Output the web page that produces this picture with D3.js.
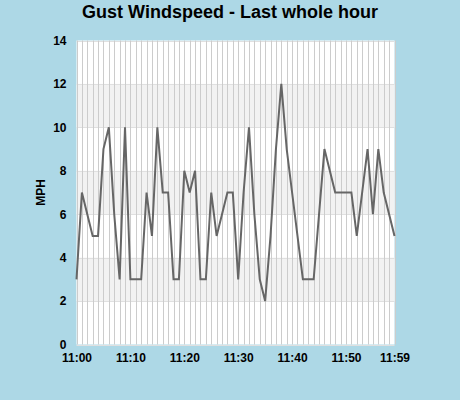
<!DOCTYPE html>
<html>
<head>
<meta charset="utf-8">
<script src="https://cdn.jsdelivr.net/npm/d3@7"></script>
<style>
  html, body { margin: 0; padding: 0; background: #add8e6; }
  svg { display: block; font-family: "Liberation Sans", Arial, sans-serif; }
</style>
</head>
<body>
<svg id="chart"></svg>
<script>
// gust speed, one reading per minute from 11:00 to 11:59
var gusts = [3, 7, 6, 5, 5, 9, 10, 6, 3, 10,
             3, 3, 3, 7, 5, 10, 7, 7, 3, 3,
             8, 7, 8, 3, 3, 7, 5, 6, 7, 7,
             3, 7, 10, 6, 3, 2, 5, 9, 12, 9,
             7, 5, 3, 3, 3, 6, 9, 8, 7, 7,
             7, 7, 5, 7, 9, 6, 9, 7, 6, 5];
var tickMinutes = [0, 10, 20, 30, 40, 50, 59];
var tickLabels = ["11:00", "11:10", "11:20", "11:30", "11:40", "11:50", "11:59"];
var yTicks = [0, 2, 4, 6, 8, 10, 12, 14];
var bands = [[2, 4], [6, 8], [10, 12]];

var width = 460, height = 400;
// note: "top" is taken by window.top, so plot edges get their own names
var plotL = 76.5, plotR = 394.5, plotT = 40.5, plotB = 344.5;

var svg = d3.select("#chart")
    .attr("width", width)
    .attr("height", height);

var x = d3.scaleLinear()
    .domain([0, gusts.length - 1])
    .range([plotL, plotR]);

var y = d3.scaleLinear()
    .domain([0, 14])
    .range([plotB, plotT]);

// plot background
svg.append("rect")
    .attr("x", plotL)
    .attr("y", plotT)
    .attr("width", plotR - plotL)
    .attr("height", plotB - plotT)
    .attr("fill", "#ffffff");

// alternate grey bands
svg.selectAll("rect.band")
    .data(bands)
    .enter()
    .append("rect")
    .attr("class", "band")
    .attr("x", plotL)
    .attr("width", plotR - plotL)
    .attr("y", function (d) { return y(d[1]); })
    .attr("height", function (d) { return y(d[0]) - y(d[1]); })
    .attr("fill", "#f2f2f2");

// horizontal grid
svg.selectAll("line.hgrid")
    .data(yTicks)
    .enter()
    .append("line")
    .attr("class", "hgrid")
    .attr("x1", plotL)
    .attr("x2", plotR)
    .attr("y1", function (d) { return Math.round(y(d)) + 0.5; })
    .attr("y2", function (d) { return Math.round(y(d)) + 0.5; })
    .attr("stroke", "#e0e0e0");

// one vertical line per minute
svg.selectAll("line.vgrid")
    .data(gusts)
    .enter()
    .append("line")
    .attr("class", "vgrid")
    .attr("x1", function (d, i) { return Math.round(x(i)) + 0.5; })
    .attr("x2", function (d, i) { return Math.round(x(i)) + 0.5; })
    .attr("y1", plotT)
    .attr("y2", plotB)
    .attr("stroke", "#cccccc");

// y axis
var yAxis = d3.axisLeft(y)
    .tickValues(yTicks)
    .tickSize(0)
    .tickPadding(10);

var gy = svg.append("g")
    .attr("transform", "translate(" + plotL + ",0)")
    .call(yAxis);
gy.select(".domain").remove();
gy.selectAll("text")
    .attr("font-family", "Liberation Sans, Arial, sans-serif")
    .attr("font-size", 12)
    .attr("font-weight", "bold")
    .attr("fill", "#000");

// x axis
var xAxis = d3.axisBottom(x)
    .tickValues(tickMinutes)
    .tickFormat(function (d, i) { return tickLabels[i]; })
    .tickSize(0)
    .tickPadding(9);

var gx = svg.append("g")
    .attr("transform", "translate(0," + plotB + ")")
    .call(xAxis);
gx.select(".domain").remove();
gx.selectAll("text")
    .attr("font-family", "Liberation Sans, Arial, sans-serif")
    .attr("font-size", 12)
    .attr("font-weight", "bold")
    .attr("fill", "#000");

// the gust line
var line = d3.line()
    .x(function (d, i) { return x(i); })
    .y(function (d) { return y(d); });

svg.append("path")
    .datum(gusts)
    .attr("d", line)
    .attr("fill", "none")
    .attr("stroke", "#666666")
    .attr("stroke-width", 2)
    .attr("stroke-linejoin", "miter");

// title + y label
svg.append("text")
    .attr("x", 230)
    .attr("y", 18)
    .attr("text-anchor", "middle")
    .attr("font-size", 18)
    .attr("font-weight", "bold")
    .text("Gust Windspeed - Last whole hour");

svg.append("text")
    .attr("transform", "translate(45," + ((plotT + plotB) / 2) + ") rotate(-90)")
    .attr("text-anchor", "middle")
    .attr("font-size", 12)
    .attr("font-weight", "bold")
    .text("MPH");
</script>
</body>
</html>
